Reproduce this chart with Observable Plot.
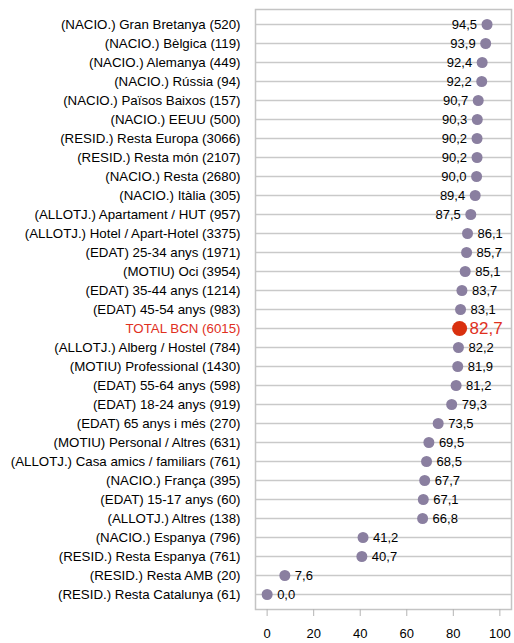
<!DOCTYPE html>
<html>
<head>
<meta charset="utf-8">
<script src="https://cdn.jsdelivr.net/npm/d3@7"></script>
<script src="https://cdn.jsdelivr.net/npm/@observablehq/plot@0.6"></script>
<style>
  body { margin: 0; background: #fff; }
  svg { font-family: "Liberation Sans", Arial, sans-serif; }
</style>
</head>
<body>
<div id="chart"></div>
<script>
const categories = [
  "(NACIO.) Gran Bretanya (520)",
  "(NACIO.) Bèlgica (119)",
  "(NACIO.) Alemanya (449)",
  "(NACIO.) Rússia (94)",
  "(NACIO.) Països Baixos (157)",
  "(NACIO.) EEUU (500)",
  "(RESID.) Resta Europa (3066)",
  "(RESID.) Resta món (2107)",
  "(NACIO.) Resta (2680)",
  "(NACIO.) Itàlia (305)",
  "(ALLOTJ.) Apartament / HUT (957)",
  "(ALLOTJ.) Hotel / Apart-Hotel (3375)",
  "(EDAT) 25-34 anys (1971)",
  "(MOTIU) Oci (3954)",
  "(EDAT) 35-44 anys (1214)",
  "(EDAT) 45-54 anys (983)",
  "TOTAL BCN (6015)",
  "(ALLOTJ.) Alberg / Hostel (784)",
  "(MOTIU) Professional (1430)",
  "(EDAT) 55-64 anys (598)",
  "(EDAT) 18-24 anys (919)",
  "(EDAT) 65 anys i més (270)",
  "(MOTIU) Personal / Altres (631)",
  "(ALLOTJ.) Casa amics / familiars (761)",
  "(NACIO.) França (395)",
  "(EDAT) 15-17 anys (60)",
  "(ALLOTJ.) Altres (138)",
  "(NACIO.) Espanya (796)",
  "(RESID.) Resta Espanya (761)",
  "(RESID.) Resta AMB (20)",
  "(RESID.) Resta Catalunya (61)"
];
const values = [94.5, 93.9, 92.4, 92.2, 90.7, 90.3, 90.2, 90.2, 90.0, 89.4, 87.5,
  86.1, 85.7, 85.1, 83.7, 83.1, 82.7, 82.2, 81.9, 81.2, 79.3, 73.5, 69.5, 68.5,
  67.7, 67.1, 66.8, 41.2, 40.7, 7.6, 0.0];
const xTicks = [0, 20, 40, 60, 80, 100];
const xDomain = [-5, 105];
const totalLabel = "TOTAL BCN (6015)";

const data = categories.map((c, i) => ({cat: c, v: values[i], total: c === totalLabel}));
const fmt = v => v.toFixed(1).replace(".", ",");
const leftLabels = data.filter(d => d.v >= 87);
const rightLabels = data.filter(d => d.v < 87 && !d.total);
const totalRow = data.filter(d => d.total);
const others = data.filter(d => !d.total);

const chart = Plot.plot({
  width: 514,
  height: 643,
  marginLeft: 255,
  marginRight: 3,
  marginTop: 9,
  marginBottom: 34,
  style: {fontFamily: "'Liberation Sans', Arial, sans-serif", fontSize: "13px", color: "#000"},
  x: {domain: xDomain, ticks: xTicks, label: null, axis: null},
  y: {type: "point", domain: categories, padding: 0.6, axis: null, label: null},
  marks: [
    Plot.tickY(data, {y: "cat", stroke: "#c9c9c9", strokeWidth: 1.5, strokeOpacity: 1}),
    Plot.frame({stroke: "#c4c4c4", strokeWidth: 1.5, fill: "none"}),
    Plot.axisX({ticks: xTicks, tickSize: 7, stroke: "#b5b5b5", tickPadding: 12, fontSize: 13, fill: "#000", tickFormat: d => String(d), label: null}),
    Plot.text(data, {y: "cat", text: "cat", frameAnchor: "left", textAnchor: "end", dx: -15,
      fill: d => d.total ? "#e0301e" : "#000", fontSize: 13.3}),
    Plot.dot(others, {x: "v", y: "cat", r: 5.5, fill: "#8a7fa0", stroke: "none"}),
    Plot.dot(totalRow, {x: "v", y: "cat", r: 7.5, fill: "#d9300f", stroke: "none"}),
    Plot.text(leftLabels, {x: "v", y: "cat", text: d => fmt(d.v), textAnchor: "end", dx: -10, fill: "#000", fontSize: 13}),
    Plot.text(rightLabels, {x: "v", y: "cat", text: d => fmt(d.v), textAnchor: "start", dx: 10, fill: "#000", fontSize: 13}),
    Plot.text(totalRow, {x: "v", y: "cat", text: d => fmt(d.v), textAnchor: "start", dx: 10, fill: "#e0301e", fontSize: 17})
  ]
});
document.getElementById("chart").appendChild(chart);
</script>
</body>
</html>
